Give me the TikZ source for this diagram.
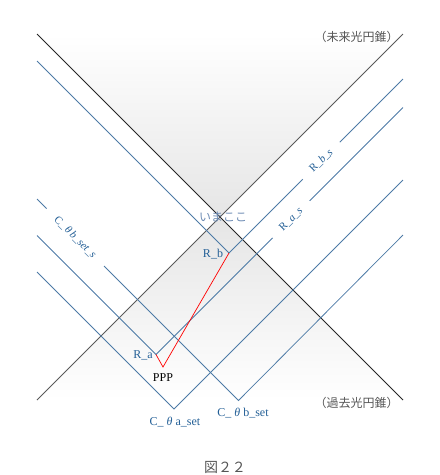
\documentclass[tikz,border=0pt]{standalone}
\usepackage{fontspec}
\setmainfont{Liberation Serif}
\newfontfamily\jp{Noto Sans CJK JP}
\definecolor{wl}{RGB}{76,122,166}
\definecolor{lb}{RGB}{35,95,150}
\definecolor{ima}{RGB}{110,140,180}
\definecolor{jgray}{RGB}{85,85,85}
\tikzset{
  wline/.style={draw=wl, line width=0.75pt},
  cone/.style={line width=0.8pt},
  lbl/.style={font=\fontsize{12}{14}\selectfont, text=lb, inner sep=1pt},
  slbl/.style={font=\fontsize{11}{13}\selectfont, text=lb, fill=white, sloped, inner ysep=1pt},
  jlbl/.style={font=\jp\fontsize{12}{14}\selectfont, text=jgray, inner sep=1pt}
}
\begin{document}
\begin{tikzpicture}[x=1pt,y=-1pt]
\useasboundingbox (0,0) rectangle (440,475);
% light cones
\coordinate (FL) at (37,34);
\coordinate (FR) at (403,34);
\coordinate (O) at (220,217);
\coordinate (PL) at (37,400);
\coordinate (PR) at (403,400);
\shade[top color=white, bottom color=black!10] (FL) -- (FR) -- (O) -- cycle;
\shade[top color=black!10, bottom color=white] (O) -- (PL) -- (PR) -- cycle;
\draw[cone, draw=black!85] (FL) -- (PR);
\draw[cone, draw=black!65] (FR) -- (PL);
% world-line points
\coordinate (Rb) at (229,253);
\coordinate (Ra) at (156,354.5);
\coordinate (P) at (163,367);
\coordinate (b0) at (37,61);
\coordinate (a0) at (37,235.5);
\coordinate (Rbs) at (403,79);
\coordinate (Ras) at (403,107.5);
\coordinate (CaL) at (37,272);
\coordinate (Ca) at (174,409);
\coordinate (CaR) at (403,180);
\coordinate (CbL) at (37,199);
\coordinate (Cb) at (238.5,400.5);
\coordinate (CbR) at (403,235);
% blue lines
\draw[wline] (b0) -- (Rb);
\draw[wline] (a0) -- (Ra);
\draw[wline] (CaL) -- (Ca) -- (CaR);
\draw[wline] (CbR) -- (Cb) -- node[slbl, pos=0.81, inner xsep=13pt] (Cbs) {C\_\,{\itshape θ\,b}\_{\itshape set}\_{\itshape s}} (CbL);
\draw[wline] (Rb) -- node[slbl, pos=0.53, inner xsep=12pt] (Rbsl) {R\_{\itshape b}\_{\itshape s}} (Rbs);
\draw[wline] (Ra) -- node[slbl, pos=0.547, inner xsep=12pt] (Rasl) {R\_{\itshape a}\_{\itshape s}} (Ras);
% red path
\draw[red, line width=0.7pt] (Ra) -- (P) -- (Rb);
% labels
\node[jlbl] (fut) at (356.5,37) {（未来光円錐）};
\node[jlbl] (past) at (356.5,403) {（過去光円錐）};
\node[jlbl, text=ima] (here) at (223,217) {いまここ};
\node[lbl] (RbL) at (213,254) {R\_b};
\node[lbl] (RaL) at (143,355) {R\_a};
\node[lbl, text=black] (PPP) at (163,378) {PPP};
\node[lbl] (Cal) at (175,422) {C\_ {\itshape θ} a\_set};
\node[lbl] (Cbl) at (243,413) {C\_ {\itshape θ} b\_set};
\node[jlbl, font=\jp\fontsize{14}{16}\selectfont] (fig) at (225,467) {図２２};
\end{tikzpicture}
\end{document}
